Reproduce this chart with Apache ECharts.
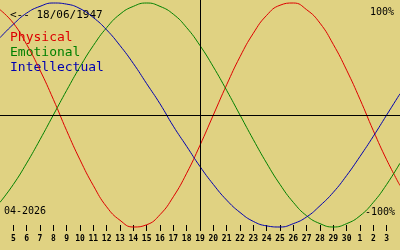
<!DOCTYPE html>
<html><head><meta charset="utf-8">
<script src="https://cdn.jsdelivr.net/npm/echarts@6/dist/echarts.min.js"></script>
<style>html,body{margin:0;padding:0;background:#e0d282;}#c{width:400px;height:250px;}</style>
</head><body><div id="c"></div>
<script>
// day index (April 2026, values > 30 roll into May)
const days = [4,5,6,7,8,9,10,11,12,13,14,15,16,17,18,19,20,21,22,23,24,25,26,27,28,29,30,31,32,33,34];
const physical = [0.94,0.82,0.63,0.40,0.14,-0.14,-0.40,-0.63,-0.82,-0.94,-1.00,-0.98,-0.89,-0.73,-0.52,-0.27,0.00,0.27,0.52,0.73,0.89,0.98,1.00,0.94,0.82,0.63,0.40,0.14,-0.14,-0.40,-0.63];
const emotional = [-0.78,-0.62,-0.43,-0.22,0.00,0.22,0.43,0.62,0.78,0.90,0.97,1.00,0.97,0.90,0.78,0.62,0.43,0.22,0.00,-0.22,-0.43,-0.62,-0.78,-0.90,-0.97,-1.00,-0.97,-0.90,-0.78,-0.62,-0.43];
const intellectual = [0.69,0.81,0.91,0.97,1.00,0.99,0.95,0.87,0.76,0.62,0.46,0.28,0.10,-0.10,-0.28,-0.46,-0.62,-0.76,-0.87,-0.95,-0.99,-1.00,-0.97,-0.91,-0.81,-0.69,-0.54,-0.37,-0.19,0.00,0.19];
const todayDay = 19;
const birthText = '<-- 18/06/1947';
const monthText = '04-2026';
const seriesNames = ['Physical','Emotional','Intellectual'];
const colors = ['#dd0000','#008000','#0000b0'];

const chart = echarts.init(document.getElementById('c'), null, {renderer:'canvas'});
const mono = '"DejaVu Sans Mono", "Liberation Mono", monospace';
const lastIdx = days.length - 1;
chart.setOption({
  animation:false,
  backgroundColor:'#e0d282',
  grid:{left:0,right:0,top:0,bottom:19,containLabel:false},
  xAxis:{
    type:'category', boundaryGap:false, data:days.map(String), position:'bottom',
    axisLine:{show:false, onZero:false},
    axisTick:{show:true, inside:true, length:6, lineStyle:{color:'#000',width:1},
      interval:(i)=> i>0 && i<lastIdx},
    axisLabel:{interval:(i)=> i>0 && i<lastIdx, margin:4, color:'#000',
      fontFamily:mono, fontSize:8, fontWeight:'bold',
      formatter:(v)=>{const n=Number(v); return String(n>30?n-30:n);}},
    splitLine:{show:false}
  },
  yAxis:{type:'value', min:-1.0357, max:1.0268, show:false, splitLine:{show:false}},
  series:[
    {name:seriesNames[0], type:'line', data:physical, smooth:true, symbol:'none',
      lineStyle:{color:colors[0],width:1}, z:3,
      markLine:{silent:true, symbol:'none', label:{show:false},
        lineStyle:{color:'#000',width:1,type:'solid'},
        data:[{yAxis:0},{xAxis:String(todayDay)}]}},
    {name:seriesNames[1], type:'line', data:emotional, smooth:true, symbol:'none',
      lineStyle:{color:colors[1],width:1}, z:3},
    {name:seriesNames[2], type:'line', data:intellectual, smooth:true, symbol:'none',
      lineStyle:{color:colors[2],width:1}, z:3}
  ],
  graphic:[
    {type:'text', left:10, top:10, style:{text:birthText, fill:'#000', font:'11px '+mono}},
    {type:'text', left:10, top:31, style:{text:seriesNames[0], fill:colors[0], font:'13px '+mono}},
    {type:'text', left:10, top:46, style:{text:seriesNames[1], fill:colors[1], font:'13px '+mono}},
    {type:'text', left:10, top:61, style:{text:seriesNames[2], fill:colors[2], font:'13px '+mono}},
    {type:'text', right:6, top:7, style:{text:'100%', fill:'#000', font:'10px '+mono}},
    {type:'text', right:5, top:207, style:{text:'-100%', fill:'#000', font:'10px '+mono}},
    {type:'text', left:4, top:206, style:{text:monthText, fill:'#000', font:'10px '+mono}}
  ]
});
</script></body></html>
